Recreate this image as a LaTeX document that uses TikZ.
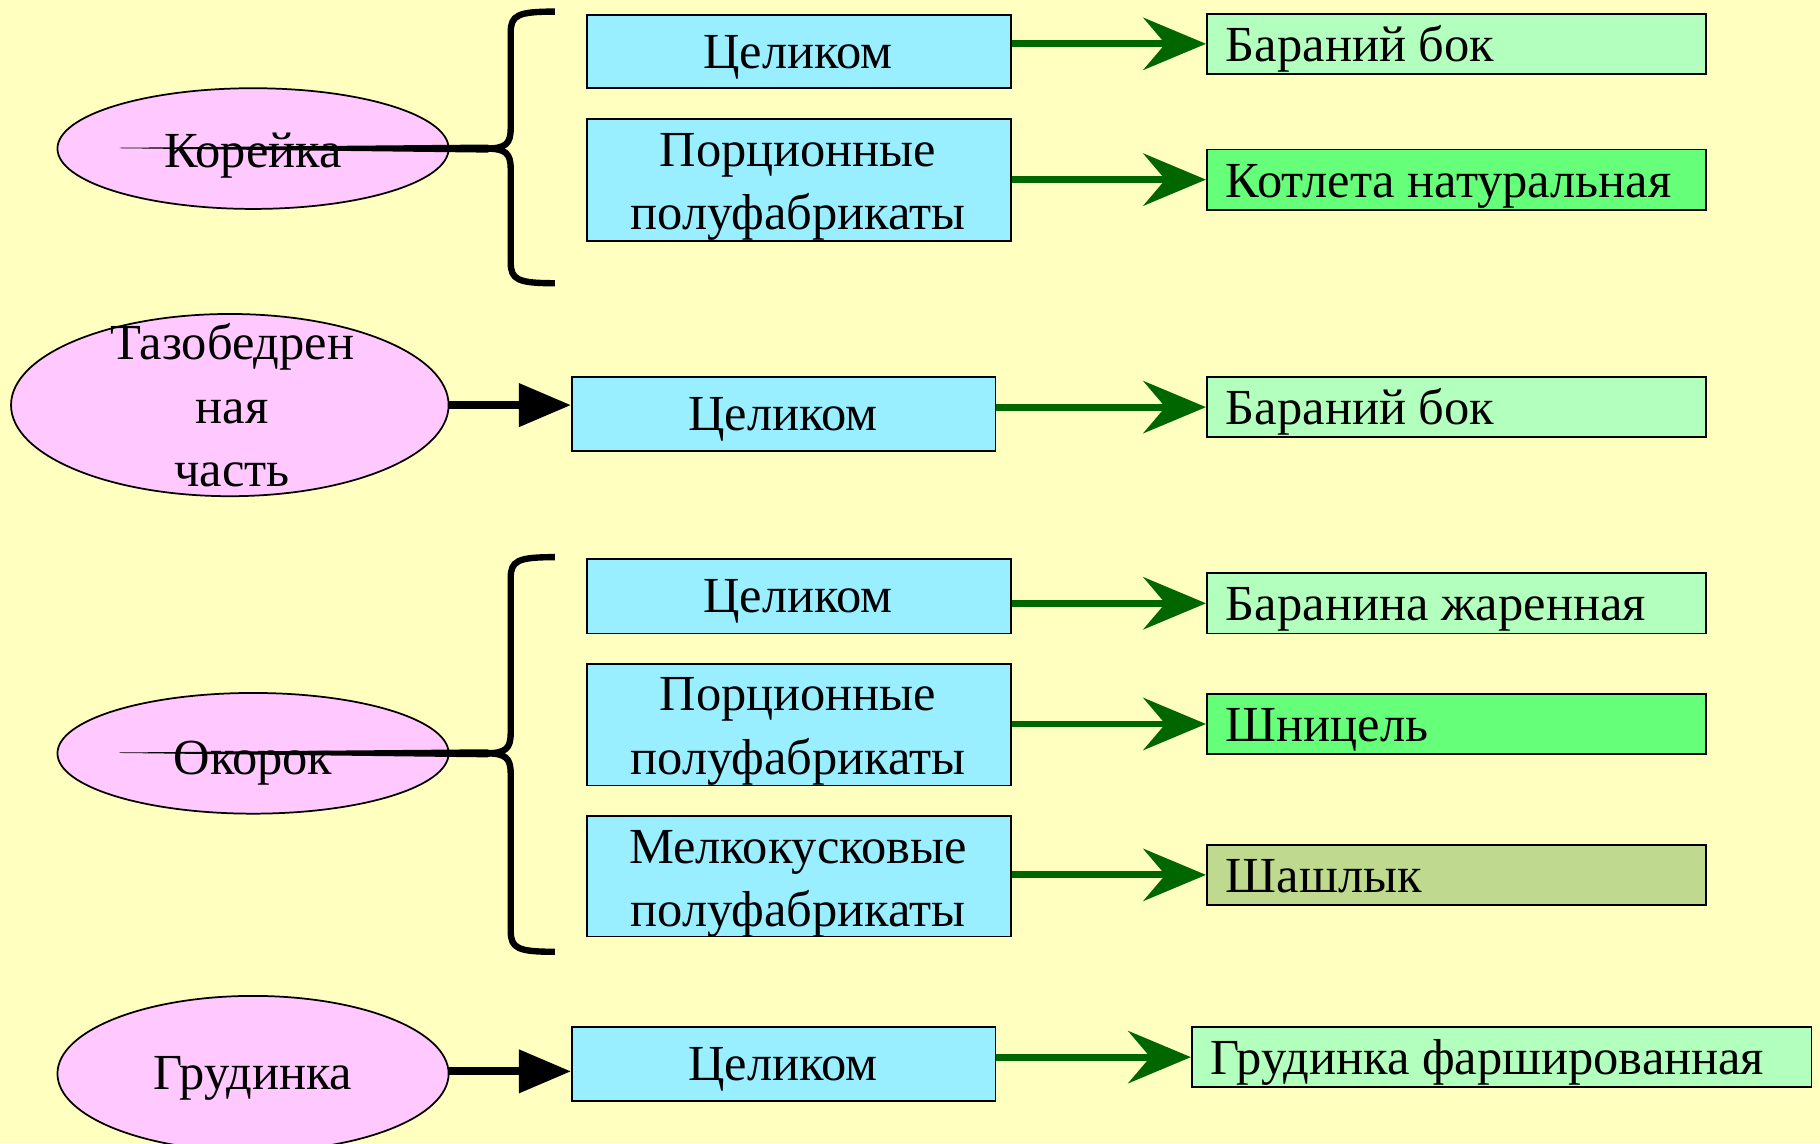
\documentclass[tikz,border=0pt]{standalone}
\usepackage{fontspec}
\setmainfont{Liberation Serif}
\usetikzlibrary{arrows.meta,shapes.geometric}
\definecolor{bgc}{RGB}{255,255,192}
\definecolor{pinkc}{RGB}{255,200,255}
\definecolor{bluec}{RGB}{153,238,255}
\definecolor{lgreen}{RGB}{179,255,189}
\definecolor{bgreen}{RGB}{102,255,122}
\definecolor{olivec}{RGB}{191,217,143}
\definecolor{dgreen}{RGB}{0,102,0}
\newcommand\twolines[2]{\begin{tabular}[t]{@{}c@{}}#1\\#2\end{tabular}}
\begin{document}
\begin{tikzpicture}[x=1pt,y=-1pt,
  every node/.style={font=\fontsize{43.5}{54.5}\selectfont},
  oval/.style={ellipse, draw=black, line width=1.5pt, fill=pinkc, inner sep=0pt},
  bluebox/.style={draw=black, line width=1.5pt, fill=bluec, minimum width=365pt, minimum height=64pt, anchor=north west, inner sep=0pt},
  resbox/.style={draw=black, line width=1.5pt, minimum width=430pt, minimum height=52pt, anchor=north west, inner sep=0pt},
  txt/.style={anchor=base, inner sep=0pt},
  ltxt/.style={anchor=base west, inner sep=0pt},
  garrow/.style={draw=dgreen, line width=6pt, -{Stealth[length=54pt,width=45pt,inset=19pt,fill=dgreen]}},
  barrow/.style={draw=black, line width=7pt, -{Triangle[length=45pt,width=36pt]}},
  bracel/.style={draw=black, line width=5.5pt, line cap=butt, line join=round},
]
\fill[bgc] (0,0) rectangle (1568,985);
\useasboundingbox (0,0) rectangle (1568,985);

% ellipses
\node[oval, minimum width=337pt, minimum height=104pt] (E1) at (218,128) {};
\node[txt] (E1t) at (218,144) {Корейка};
\node[oval, minimum width=377pt, minimum height=157pt] (E2) at (198,349) {};
\node[txt] (E2t) at (200,310) {\begin{tabular}[t]{@{}c@{}}Тазобедрен\\ная\\часть\end{tabular}};
\node[oval, minimum width=337pt, minimum height=104pt] (E3) at (218,649) {};
\node[txt] (E3t) at (218,667) {Окорок};
\node[oval, minimum width=337pt, minimum height=134pt] (E4) at (218,925) {};
\node[txt] (E4t) at (218,939) {Грудинка};

% blue boxes
\node[bluebox, minimum height=63pt] (B1) at (505,12) {};
\node[txt] (B1t) at (687.5,59) {Целиком};
\node[bluebox, minimum height=105pt] (B2) at (505,102) {};
\node[txt] (B2t) at (687.5,143.5) {\twolines{Порционные}{полуфабрикаты}};
\node[bluebox] (B3) at (492,324) {};
\node[txt] (B3t) at (674.5,371) {Целиком};
\node[bluebox] (B4) at (505,481) {};
\node[txt] (B4t) at (687.5,528) {Целиком};
\node[bluebox, minimum height=105pt] (B5) at (505,571) {};
\node[txt] (B5t) at (687.5,612.5) {\twolines{Порционные}{полуфабрикаты}};
\node[bluebox, minimum height=104pt] (B6) at (505,702) {};
\node[txt] (B6t) at (687.5,743.5) {\twolines{Мелкокусковые}{полуфабрикаты}};
\node[bluebox] (B7) at (492,884) {};
\node[txt] (B7t) at (674.5,931) {Целиком};

% result boxes
\node[resbox, fill=lgreen] (G1) at (1039,11) {};
\node[ltxt] (G1t) at (1056,53) {Бараний бок};
\node[resbox, fill=bgreen] (G2) at (1039,128) {};
\node[ltxt] (G2t) at (1056,170) {Котлета натуральная};
\node[resbox, fill=lgreen] (G3) at (1039,324) {};
\node[ltxt] (G3t) at (1056,366) {Бараний бок};
\node[resbox, fill=lgreen] (G4) at (1039,493) {};
\node[ltxt] (G4t) at (1056,535) {Баранина жаренная};
\node[resbox, fill=bgreen] (G5) at (1039,597) {};
\node[ltxt] (G5t) at (1056,639) {Шницель};
\node[resbox, fill=olivec] (G6) at (1039,727) {};
\node[ltxt] (G6t) at (1056,769) {Шашлык};
\node[resbox, fill=lgreen, minimum width=534pt] (G7) at (1026,884) {};
\node[ltxt] (G7t) at (1043,926) {Грудинка фаршированная};

% green arrows
\draw[garrow] (G1.west -| B1.east) -- (G1.west);
\draw[garrow] (G2.west -| B2.east) -- (G2.west);
\draw[garrow] (G3.west -| B3.east) -- (G3.west);
\draw[garrow] (G4.west -| B4.east) -- (G4.west);
\draw[garrow] (G5.west -| B5.east) -- (G5.west);
\draw[garrow] (G6.west -| B6.east) -- (G6.west);
\draw[garrow] (G7.west -| B7.east) -- (G7.west);

% black arrows
\draw[barrow] (E2.east) -- (E2.east -| B3.west);
\draw[barrow] ([yshift=2pt]E4.east) -- ([yshift=2pt]E4.east -| B7.west);

% braces
\coordinate (K1) at (418,128);
\coordinate (K2) at (418,649);
\draw[bracel] (478,10) .. controls (446,10) and (440,13) .. (440,28) -- (440,110)
  .. controls (440,124) and (436,128) .. (K1)
  .. controls (436,128) and (440,132) .. (440,146) -- (440,226)
  .. controls (440,241) and (446,244) .. (478,244);
\fill[black] (103,127.3) -- (420,124.5) -- (428,128) -- (420,131.5) -- (103,127.7) -- cycle;
\draw[bracel] (478,480) .. controls (446,480) and (440,483) .. (440,498) -- (440,631)
  .. controls (440,645) and (436,649) .. (K2)
  .. controls (436,649) and (440,653) .. (440,667) -- (440,802)
  .. controls (440,817) and (446,820) .. (478,820);
\fill[black] (103,648.3) -- (420,645.5) -- (428,649) -- (420,652.5) -- (103,648.7) -- cycle;
\end{tikzpicture}
\end{document}
